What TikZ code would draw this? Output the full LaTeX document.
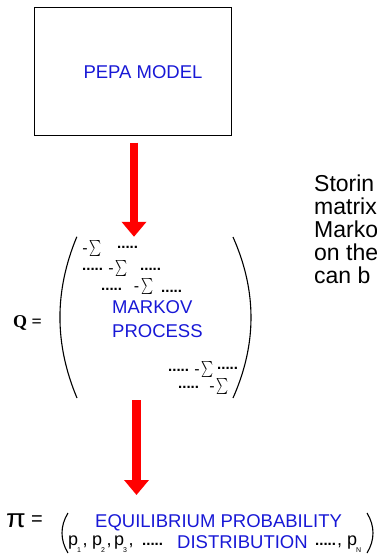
\documentclass[tikz,border=0pt]{standalone}
\usepackage{fontspec}
\usepackage{graphicx}
\setmainfont{Liberation Sans}
\newfontfamily\timesfont{Liberation Serif}
\usetikzlibrary{arrows.meta}
\definecolor{labelblue}{RGB}{24,24,214}
\definecolor{flowred}{RGB}{255,0,0}
% diagonal entry of the generator matrix: minus sigma
\newcommand\sumterm{\raisebox{1.5pt}{-}\kern2pt\resizebox*{12pt}{16pt}{$\sum$}}
\newcommand\dotrun{\textbf{.....}}
% probability with a small lowered index
\newcommand\psub[1]{p\kern-1pt\raisebox{-7pt}{\fontsize{7}{7}\selectfont #1}}
\begin{document}
\begin{tikzpicture}[x=1pt,y=-1pt,
  every node/.style={inner sep=0pt},
  bigarrow/.style={draw=flowred,line width=8.5pt,-{Triangle[width=24pt,length=15pt]}},
  bluelabel/.style={text=labelblue,font=\fontsize{18.5}{22}\selectfont},
  sumentry/.style={font=\fontsize{16}{16}\selectfont},
  dotentry/.style={font=\fontsize{15}{15}\selectfont,anchor=base west},
  bracket/.style={line width=1.1pt},
  sidetext/.style={font=\fontsize{23}{23}\selectfont,anchor=base west},
  plabel/.style={font=\fontsize{18}{18}\selectfont,anchor=base west},
]
\useasboundingbox (0,0) rectangle (376,555);

% model box
\node[draw,line width=1pt,minimum width=197pt,minimum height=128pt] (pepa) at (132.5,71) {};
\node[bluelabel] (pepalabel) at (143,72) {PEPA MODEL};

% generator matrix Q
\node[minimum width=191pt,minimum height=161pt] (qmat) at (155.5,317.5) {};
\node[font=\timesfont\bfseries\fontsize{18}{18}\selectfont,anchor=base west] (qname) at (13,327) {Q =};
\draw[bracket] (qmat.north west) ++(17,0) coordinate (lpt)
  .. controls (54.3,291) and (54.3,344) .. (77,398) coordinate (lpb);
\draw[bracket] (233,237) coordinate (rpt)
  .. controls (257,291) and (257,344) .. (233,398) coordinate (rpb);

\node[sumentry] (s1) at (92,248.5) {\sumterm};
\node[dotentry] (d1b) at (117,248) {\dotrun};
\node[dotentry] (d2a) at (82,270) {\dotrun};
\node[sumentry] (s2) at (118,268) {\sumterm};
\node[dotentry] (d2b) at (140,270) {\dotrun};
\node[dotentry] (d3a) at (101,290) {\dotrun};
\node[sumentry] (s3) at (143.5,286) {\sumterm};
\node[dotentry] (d3b) at (161,292) {\dotrun};
\node[bluelabel,anchor=base west] (markov) at (112,313) {MARKOV};
\node[bluelabel,anchor=base west] (process) at (112,337) {PROCESS};
\node[dotentry] (d4a) at (168,371) {\dotrun};
\node[sumentry] (s4) at (204,369.5) {\sumterm};
\node[dotentry] (d4b) at (217,369) {\dotrun};
\node[dotentry] (d5a) at (178,388) {\dotrun};
\node[sumentry] (s5) at (219,386) {\sumterm};

% flow arrows
\coordinate (a1tail) at ([xshift=1.5pt,yshift=-7pt]pepa.south);
\draw[bigarrow] (a1tail) -- (a1tail |- qmat.north);
\coordinate (a2tail) at ([xshift=-19pt,yshift=-2pt]qmat.south);
\coordinate (pitop) at (136.5,495);
\draw[bigarrow] (a2tail) -- (pitop);

% side remark
\begin{scope}
\clip (0,0) rectangle (376,555);
\node[sidetext] (t1) at (314,191) {Storin};
\node[sidetext] (t2) at (314,214) {matrix};
\node[sidetext] (t3) at (314,237) {Marko};
\node[sidetext] (t4) at (314,260) {on the};
\node[sidetext] (t5) at (314,283) {can b};
\end{scope}

% equilibrium distribution
\node[font=\fontsize{26}{26}\selectfont] (piname) at (16,521) {\scalebox{1.1}[1]{π}};
\node[font=\fontsize{20}{20}\selectfont] (pieq) at (37,521) {=};
\draw[bracket] (68,513) coordinate (plt) .. controls (60,526) and (60,540) .. (68,553);
\draw[bracket] (367,513) coordinate (prt) .. controls (375,526) and (375,540) .. (367,553);
\node[bluelabel,anchor=base west] (equil) at (95,527) {EQUILIBRIUM PROBABILITY};
\node[bluelabel,anchor=base west] (distr) at (177,548) {DISTRIBUTION};
\node[plabel] (p1) at (68,545) {\psub{1}\kern1.5pt,};
\node[plabel] (p2) at (92,545) {\psub{2}\kern1.5pt,};
\node[plabel] (p3) at (114,545) {\psub{3}\kern1.5pt,};
\node[dotentry] (pd1) at (142,545) {\dotrun};
\node[dotentry] (pd2) at (315,545) {\dotrun};
\node[plabel] (pn) at (337,545) {, \psub{N}};
\end{tikzpicture}
\end{document}
